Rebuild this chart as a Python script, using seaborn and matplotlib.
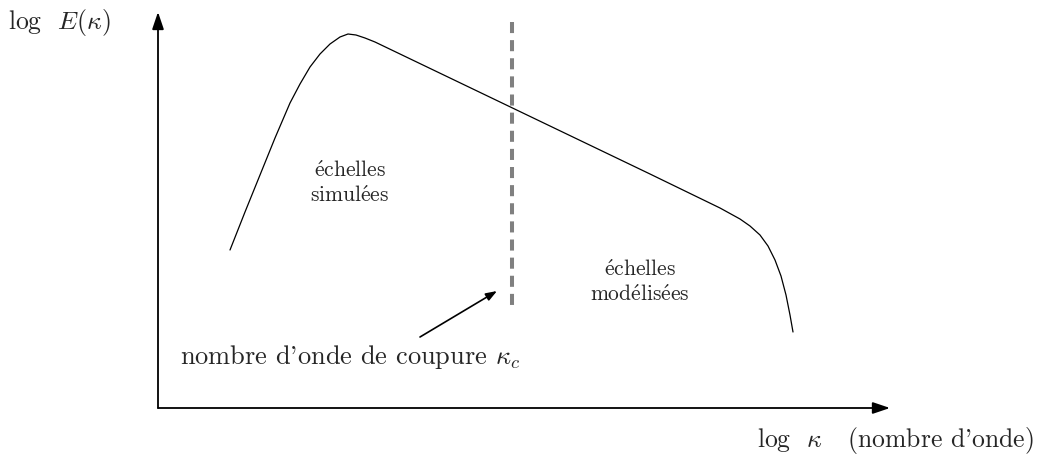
import numpy as np
import pandas as pd
import matplotlib
matplotlib.use("Agg")
import matplotlib.pyplot as plt
import seaborn as sns

# Schematic spectrum (log kappa, log E) in arbitrary units
log_kappa = [0.72, 0.87, 1.02, 1.17, 1.32, 1.42, 1.52, 1.62, 1.72, 1.82, 1.90,
             1.98, 2.07, 2.17, 2.92, 3.92, 4.92, 5.62, 5.82, 5.92, 6.02, 6.10,
             6.17, 6.23, 6.28, 6.32, 6.35]
log_E = [1.58, 1.96, 2.33, 2.70, 3.05, 3.24, 3.41, 3.54, 3.64, 3.71, 3.74,
         3.73, 3.70, 3.66, 3.30, 2.82, 2.34, 2.00, 1.89, 1.82, 1.73, 1.62,
         1.48, 1.32, 1.13, 0.93, 0.76]

cutoff_kappa = 3.54
cutoff_range = [3.86, 0.96]

sns.set_theme(style="white")
plt.rcParams["font.family"] = ["cmr10", "DejaVu Serif"]
plt.rcParams["mathtext.fontset"] = "cm"
plt.rcParams["axes.unicode_minus"] = False

fig = plt.figure(figsize=(10.37, 4.54), dpi=100)
ax = fig.add_axes([0, 0, 1, 1])
ax.set_xlim(-1.58, 8.79)
ax.set_ylim(-0.46, 4.08)
ax.axis("off")

df = pd.DataFrame({"k": log_kappa, "E": log_E})
sns.lineplot(data=df, x="k", y="E", ax=ax, color="black", linewidth=0.9,
             sort=False, estimator=None)

ax.plot([cutoff_kappa, cutoff_kappa], cutoff_range, color="#808080",
        linewidth=2.9, linestyle=(0, (2.75, 1.75)), solid_capstyle="butt",
        dash_capstyle="butt")

axis_arrow = "-|>,head_length=0.65,head_width=0.22"
# axes arrows
ax.annotate("", xy=(7.32, 0.0), xytext=(0.0, 0.0),
            arrowprops=dict(arrowstyle=axis_arrow, color="black", lw=1.3,
                            mutation_scale=16, shrinkA=0, shrinkB=0))
ax.annotate("", xy=(0.0, 3.96), xytext=(0.0, 0.0),
            arrowprops=dict(arrowstyle=axis_arrow, color="black", lw=1.3,
                            mutation_scale=16, shrinkA=0, shrinkB=0))

# pointer to cutoff
ax.annotate("", xy=(3.39, 1.17), xytext=(2.62, 0.71),
            arrowprops=dict(arrowstyle="-|>,head_length=0.55,head_width=0.2",
                            color="black", lw=1.2,
                            mutation_scale=12, shrinkA=0, shrinkB=0))

ax.text(-1.50, 3.86, r"log  $E(\kappa)$", fontsize=18.5, ha="left", va="center")
ax.text(1.92, 2.25,
        r"$\mathrm{\'echelles}$" + "\n" + r"$\mathrm{simul\'ees}$",
        fontsize=15.5, ha="center", va="center", linespacing=1.25)
ax.text(4.82, 1.26,
        r"$\mathrm{\'echelles}$" + "\n" + r"$\mathrm{mod\'elis\'ees}$",
        fontsize=15.5, ha="center", va="center", linespacing=1.25)
ax.text(0.22, 0.51, r"nombre d'onde de coupure $\kappa_c$", fontsize=19,
        ha="left", va="center")
ax.text(5.99, -0.32, r"log  $\kappa$   (nombre d'onde)", fontsize=18.5,
        ha="left", va="center")

fig.savefig("out.png", dpi=100)
